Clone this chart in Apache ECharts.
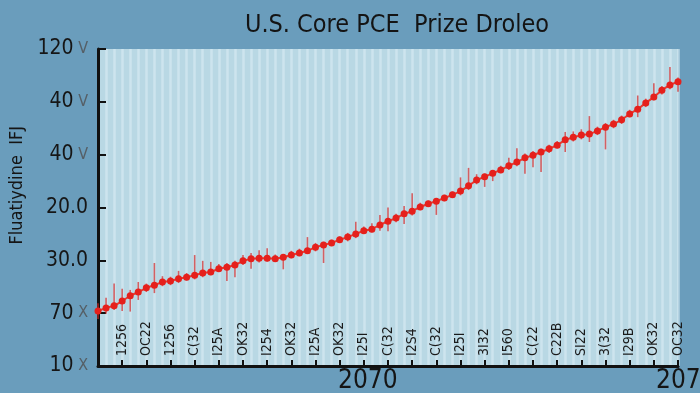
<!DOCTYPE html>
<html>
<head>
<meta charset="utf-8">
<script src="https://cdn.jsdelivr.net/npm/echarts@6/dist/echarts.min.js"></script>
<style>
html,body{margin:0;padding:0;background:#6a9dbc;}
#c{width:700px;height:393px;}
</style>
</head>
<body>
<div id="c"></div>
<script>
// ---- data ----
var titleText = 'U.S. Core PCE  Prize Droleo';
var yAxisTitle = 'Fluatiydine  IFJ';
var yTickNumbers = ['10', '70', '30.0', '20.0', '40', '40', '120'];
var yTickSuffix = [' X', ' X', '', '', ' V', ' V', ' V'];
var xTickLabels = ['1256','OC22','1256','C(32','I25A','OK32','I254','OK32','I25A','OK32','I25I','C(32',
                   'I2S4','C(32','I25I','3I32','I560','C(22','C22B','SI22','3(32','I29B','OK32','OC32'];
var yearLabels = ['2070', '2071'];
var priceValues = [1.04,1.10,1.14,1.23,1.33,1.40,1.48,1.53,1.59,1.61,1.65,1.68,1.72,1.76,1.78,1.84,1.87,1.91,
                   1.99,2.03,2.04,2.04,2.03,2.06,2.10,2.14,2.18,2.25,2.29,2.33,2.39,2.44,2.50,2.56,2.59,2.67,
                   2.74,2.80,2.88,2.93,3.01,3.07,3.12,3.18,3.24,3.31,3.41,3.52,3.58,3.65,3.71,3.79,3.86,3.94,
                   3.99,4.05,4.11,4.18,4.28,4.33,4.37,4.39,4.45,4.52,4.58,4.66,4.77,4.86,4.98,5.09,5.22,5.32,5.38];
var spikeUp = [0.15,0.19,0.42,0.23,0.11,0.19,0.08,0.42,0.11,0.08,0.15,0.08,0.38,0.23,0.19,0.09,0.08,0.08,
               0.11,0.11,0.15,0.19,0.08,0.06,0.08,0.08,0.26,0.08,0.06,0.06,0.06,0.08,0.23,0.08,0.11,0.19,
               0.26,0.08,0.15,0.34,0.08,0.06,0.06,0.06,0.06,0.26,0.34,0.11,0.06,0.06,0.08,0.15,0.26,0.08,
               0.08,0.06,0.08,0.08,0.15,0.11,0.11,0.34,0.08,0.08,0.08,0.08,0.08,0.26,0.08,0.26,0.08,0.34,0.08];
var spikeDown = [0.15,0.11,0.08,0.19,0.30,0.15,0.08,0.15,0.08,0.08,0.08,0.06,0.08,0.08,0.06,0.06,0.26,0.23,
                 0.08,0.19,0.08,0.06,0.06,0.23,0.06,0.06,0.06,0.08,0.34,0.06,0.06,0.08,0.08,0.06,0.06,0.11,
                 0.19,0.08,0.19,0.08,0.06,0.06,0.26,0.06,0.06,0.08,0.08,0.08,0.19,0.15,0.06,0.08,0.08,0.30,
                 0.23,0.38,0.08,0.06,0.23,0.08,0.08,0.15,0.08,0.42,0.08,0.08,0.06,0.15,0.08,0.06,0.08,0.08,0.19];

// ---- build ----
var categories = priceValues.map(function (v, i) { return 'p' + i; });
var spikeData = priceValues.map(function (v, i) { return [i, v - spikeDown[i], v + spikeUp[i]]; });
var fontNarrow = "'Liberation Sans Narrow','DejaVu Sans Condensed','Roboto Condensed','Liberation Sans',sans-serif";

var chart = echarts.init(document.getElementById('c'), null, {renderer: 'canvas'});
chart.setOption({
  backgroundColor: '#6a9dbc',
  animation: false,
  title: {
    text: titleText,
    left: 392, top: 8, textAlign: 'center',
    textStyle: {fontSize: 25, fontWeight: 'normal', color: '#141414', fontFamily: fontNarrow}
  },
  grid: {left: 98, right: 22, top: 49, bottom: 27, show: true, backgroundColor: '#b9d8e4', borderWidth: 0},
  xAxis: {
    type: 'category',
    data: categories,
    boundaryGap: false,
    axisLine: {lineStyle: {color: '#111', width: 3}},
    axisTick: {inside: true, length: 6, lineStyle: {color: '#111', width: 2},
      interval: function (i) { return i % 3 === 0; }},
    axisLabel: {
      inside: true, rotate: 90, margin: 10, fontSize: 14, fontWeight: 500, color: '#1a1a1a', fontFamily: fontNarrow,
      interval: function (i) { return i % 3 === 0 && i > 0; },
      formatter: function (v, i) { return xTickLabels[i / 3 - 1] || ''; }
    },
    splitLine: {show: true, interval: 0, lineStyle: {color: 'rgba(214,234,242,0.7)', width: 2.5}}
  },
  yAxis: {
    type: 'value', min: 0, max: 6, interval: 1,
    axisLine: {show: true, lineStyle: {color: '#111', width: 3}},
    axisTick: {show: true, inside: true, length: 8, lineStyle: {color: '#111', width: 2}},
    splitLine: {show: false},
    axisLabel: {
      margin: 10,
      formatter: function (v) { return '{n|' + yTickNumbers[v] + '}{s|' + yTickSuffix[v] + '}'; },
      rich: {
        n: {fontSize: 21, color: '#161616', fontFamily: fontNarrow},
        s: {fontSize: 16, color: '#555f66', fontFamily: fontNarrow}
      }
    }
  },
  graphic: [
    {type: 'text', left: 8, top: 126, rotation: Math.PI / 2,
     style: {text: yAxisTitle, fontSize: 18, fill: '#151515', fontFamily: fontNarrow}},
    {type: 'text', left: 338, top: 368,
     style: {text: yearLabels[0], fontSize: 26, fill: '#151515', fontFamily: fontNarrow}},
    {type: 'text', left: 656, top: 368,
     style: {text: yearLabels[1], fontSize: 26, fill: '#151515', fontFamily: fontNarrow}}
  ],
  series: [
    {
      type: 'custom',
      data: spikeData,
      z: 2,
      renderItem: function (params, api) {
        var p1 = api.coord([api.value(0), api.value(1)]);
        var p2 = api.coord([api.value(0), api.value(2)]);
        return {type: 'line', shape: {x1: p1[0], y1: p1[1], x2: p2[0], y2: p2[1]},
                style: {stroke: 'rgba(214,40,40,0.7)', lineWidth: 1.6}};
      }
    },
    {
      type: 'line',
      data: priceValues,
      z: 3,
      showAllSymbol: true,
      symbol: 'circle', symbolSize: 7,
      itemStyle: {color: '#e5201c'},
      lineStyle: {color: '#e83a30', width: 2}
    }
  ]
});
</script>
</body>
</html>
